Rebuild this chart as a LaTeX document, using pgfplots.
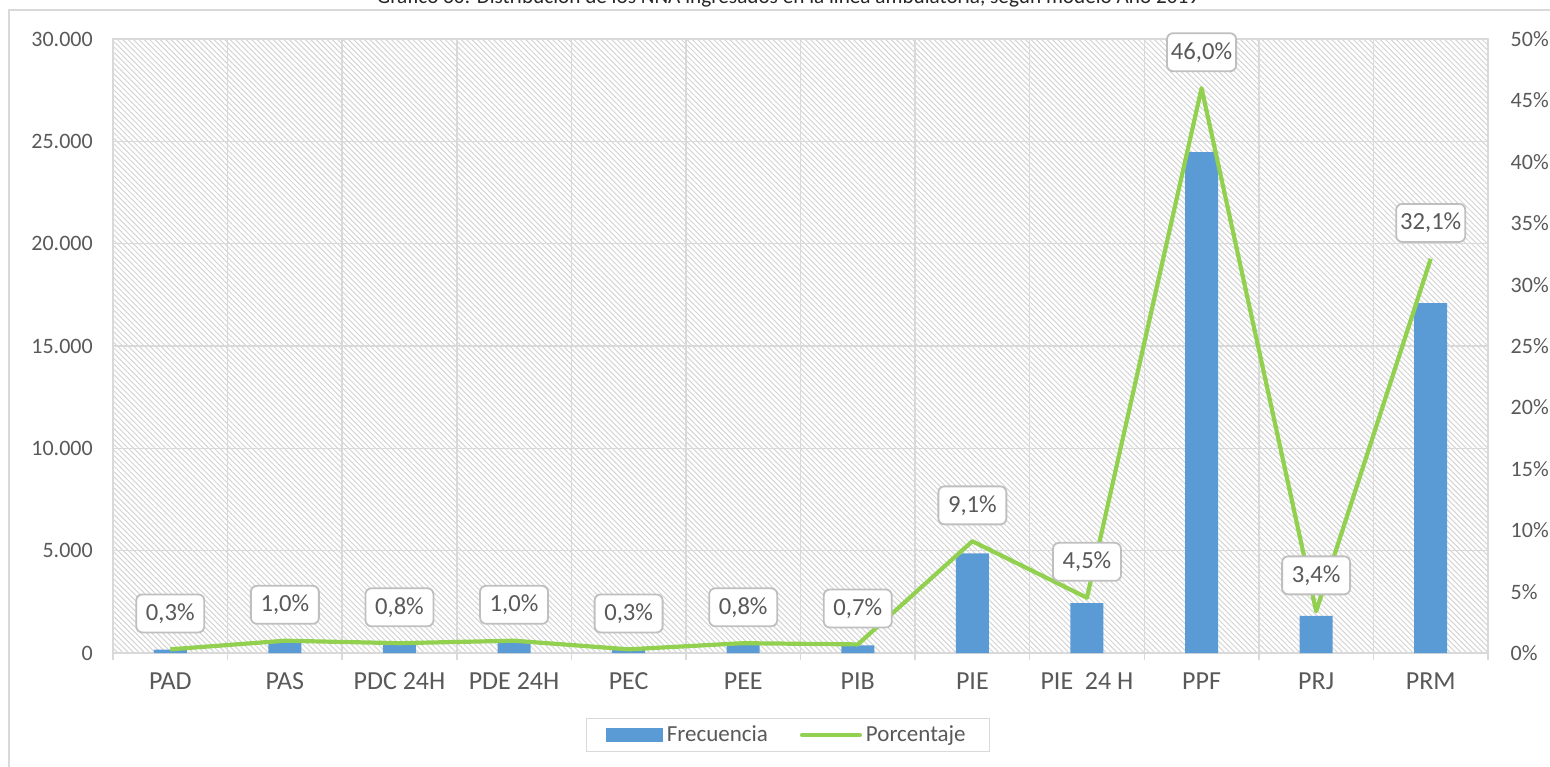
\documentclass[border=0pt]{standalone}
\usepackage{fontspec}
\setmainfont{Carlito}
\usepackage{pgfplots}
\usepackage{pgfplotstable}
\pgfplotsset{compat=1.18}
\usetikzlibrary{patterns.meta}
\definecolor{barblue}{HTML}{5B9BD5}
\definecolor{lgreen}{HTML}{92D050}
\definecolor{txtgray}{HTML}{595959}
\definecolor{gridgray}{HTML}{D9D9D9}
\definecolor{hatch}{HTML}{D4D4D4}
\definecolor{boxgray}{HTML}{BFBFBF}

\pgfplotstableread{
x freq pct
0 170 0.3
1 510 1.0
2 410 0.8
3 510 1.0
4 170 0.3
5 410 0.8
6 370 0.7
7 4870 9.1
8 2440 4.5
9 24470 46.0
10 1810 3.4
11 17090 32.1
}\datatable

\begin{document}
\begin{tikzpicture}
\useasboundingbox (0,0) rectangle (775pt,383pt);
\clip (0,0) rectangle (775pt,383pt);
\node[anchor=base, font=\fontsize{10.6}{13}\selectfont, text=black!85, inner sep=0pt] at (394pt,381.2pt)
  {Gráfico 30: Distribución de los NNA ingresados en la línea ambulatoria, según modelo Año 2019};
\draw[gridgray, line width=0.75pt] (4.5pt,378pt) rectangle (900pt,-20pt);

\pgfplotsset{
  common/.style={
    at={(56.5pt,56.5pt)}, anchor=south west, scale only axis,
    width=687.5pt, height=307pt,
    xmin=-0.5, xmax=11.5,
    /pgf/number format/assume math mode=true,
    ticklabel style={font=\fontsize{11}{13}\selectfont, text=txtgray},
  }
}

\begin{axis}[common,
  ymin=0, ymax=30000,
  ybar, bar width=16.5pt,
  axis background/.style={pattern={Lines[angle=-45,distance=1.9pt,line width=0.5pt]}, pattern color=hatch},
  xtick={0,...,11},
  xticklabels={PAD,PAS,PDC 24H,PDE 24H,PEC,PEE,PIB,PIE,PIE\ \ 24 H,PPF,PRJ,PRM},
  minor xtick={-0.5,0.5,...,11.5},
  xminorgrids, ymajorgrids,
  ytick={0,5000,...,30000},
  scaled y ticks=false,
  /pgf/number format/1000 sep={.},
  major tick length=0pt, minor tick length=3.5pt, tick align=outside,
  xtick pos=bottom, ytick pos=left,
  axis line style={gridgray, line width=0.75pt},
  grid style={gridgray, line width=0.75pt},
  minor grid style={gridgray, line width=0.75pt},
  minor tick style={gridgray, line width=0.75pt},
  xticklabel style={yshift=-6.5pt, font=\fontsize{13}{15}\selectfont},
  yticklabel style={xshift=-6.6pt},
]
\addplot[fill=barblue, draw=none] table[x=x,y=freq]{\datatable};
\end{axis}

\begin{axis}[common,
  ymin=0, ymax=50,
  axis x line=none, axis y line*=right,
  axis line style={draw=none},
  ytick={0,5,...,50},
  yticklabel={\pgfmathprintnumber{\tick}\%},
  major tick length=0pt,
  yticklabel style={xshift=7.8pt},
  legend columns=2,
  legend cell align=left,
  legend style={at={(0.4909,-0.1336)}, anchor=center, draw=gridgray, line width=0.75pt,
    font=\fontsize{11.5}{13}\selectfont, text=txtgray, inner xsep=10pt, inner ysep=1.5pt,
    /tikz/every even column/.append style={column sep=14pt}},
]
\addlegendimage{legend image code/.code={\fill[barblue] (0pt,-3pt) rectangle (27.5pt,3pt);}}
\addlegendentry{Frecuencia}
\addplot[lgreen, line width=2.1pt, line join=round, mark=none,
  legend image code/.code={\draw[lgreen,line width=2pt,line cap=round] (0pt,0pt) -- (29pt,0pt);},
  nodes near coords={\pgfmathprintnumber[fixed,fixed zerofill,precision=1,use comma]{\pgfplotspointmeta}\%},
  every node near coord/.style={anchor=south, yshift=8pt, draw=boxgray, line width=0.9pt,
    rounded corners=3pt, fill=white, text=txtgray, font=\fontsize{12.3}{14}\selectfont,
    minimum width=34pt, minimum height=19pt, inner sep=2pt},
] table[x=x,y=pct]{\datatable};
\addlegendentry{Porcentaje}
\end{axis}
\end{tikzpicture}
\end{document}
